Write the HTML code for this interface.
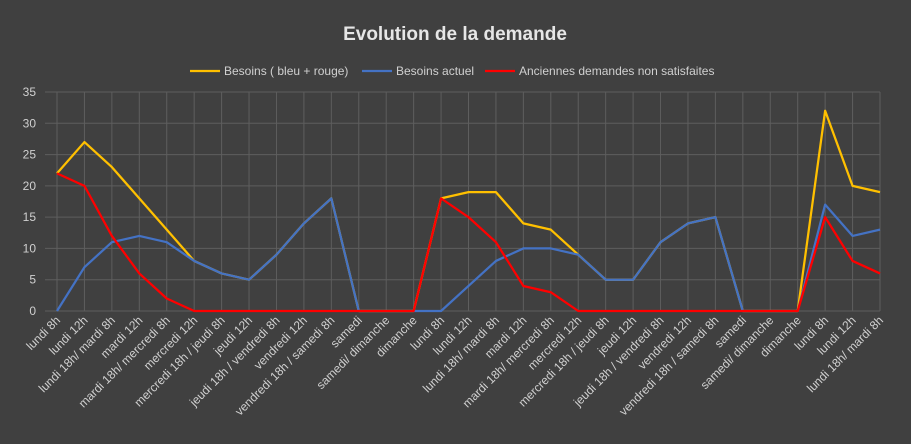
<!DOCTYPE html>
<html><head><meta charset="utf-8"><style>
html,body{margin:0;padding:0;background:#404040;}
svg{display:block;font-family:"Liberation Sans",sans-serif;}
</style></head><body>
<svg id="c" width="911" height="444">
<rect width="911" height="444" fill="#404040"/>
<text x="455" y="40" fill="#e6e6e6" font-size="19" font-weight="bold" text-anchor="middle">Evolution de la demande</text>
<g id="legend"></g>
<g id="grid"></g>
<g id="series"></g>
<g id="labels"></g>
</svg>
<script>
const categories=["lundi 8h","lundi 12h","lundi 18h/ mardi 8h","mardi 12h","mardi 18h/ mercredi 8h","mercredi 12h","mercredi 18h / jeudi 8h","jeudi 12h","jeudi 18h / vendredi 8h","vendredi 12h","vendredi 18h / samedi 8h","samedi","samedi/ dimanche","dimanche",
"lundi 8h","lundi 12h","lundi 18h/ mardi 8h","mardi 12h","mardi 18h/ mercredi 8h","mercredi 12h","mercredi 18h / jeudi 8h","jeudi 12h","jeudi 18h / vendredi 8h","vendredi 12h","vendredi 18h / samedi 8h","samedi","samedi/ dimanche","dimanche",
"lundi 8h","lundi 12h","lundi 18h/ mardi 8h"];
const besoins=[22,27,23,18,13,8,6,5,9,14,18,0,0,0,18,19,19,14,13,9,5,5,11,14,15,0,0,0,32,20,19];
const actuel=[0,7,11,12,11,8,6,5,9,14,18,0,0,0,0,4,8,10,10,9,5,5,11,14,15,0,0,0,17,12,13];
const anciennes=[22,20,12,6,2,0,0,0,0,0,0,0,0,0,18,15,11,4,3,0,0,0,0,0,0,0,0,0,15,8,6];
const yTicks=[0,5,10,15,20,25,30,35];
const NS="http://www.w3.org/2000/svg";
const x0=57,x1=880,y0=311,y1=92,ymax=35;
const xs=i=>x0+i*(x1-x0)/(categories.length-1);
const ys=v=>y0-v*(y0-y1)/ymax;
function mk(t,a,p){const e=document.createElementNS(NS,t);for(const k in a)e.setAttribute(k,a[k]);p.appendChild(e);return e;}
const grid=document.getElementById('grid'),lab=document.getElementById('labels');
yTicks.forEach(v=>{
 const l=mk('line',{x1:x0-12,x2:x1,y1:ys(v),y2:ys(v),stroke:'#5e5e5e','stroke-width':1},grid);
 
 
 const t=mk('text',{x:36,y:ys(v)+4,fill:'#d0d0d0','font-size':12,'text-anchor':'end'},lab);
 t.textContent=v;
 
 
});
categories.forEach((c,i)=>{
 const l=mk('line',{x1:xs(i),x2:xs(i),y1:y1,y2:y0,stroke:'#5e5e5e','stroke-width':1},grid);
 
 
 const t=mk('text',{x:xs(i)+4,y:y0+10,fill:'#d0d0d0','font-size':12,'text-anchor':'end',transform:`rotate(-45 ${xs(i)+4} ${y0+10})`},lab);
 t.textContent=c;
 
 
});
const ser=document.getElementById('series');
[[besoins,'#ffc000','line-besoins'],[actuel,'#4472c4','line-besoins-actuel'],[anciennes,'#ff0000','line-anciennes-demandes']].forEach(([d,col,n])=>{
 const p=mk('polyline',{points:d.map((v,i)=>xs(i)+','+ys(v)).join(' '),fill:'none',stroke:col,'stroke-width':2.25,'stroke-linejoin':'round'},ser);
 
 
});
const leg=document.getElementById('legend');
[['Besoins ( bleu + rouge)','#ffc000',190],['Besoins actuel','#4472c4',362],['Anciennes demandes non satisfaites','#ff0000',485]].forEach(([t,col,x])=>{
 const g=mk('g',{},leg);
 
 
 mk('line',{x1:x,x2:x+30,y1:71,y2:71,stroke:col,'stroke-width':2.25},g);
 const tx=mk('text',{x:x+34,y:75,fill:'#d0d0d0','font-size':12},g);
 tx.textContent=t;
});
</script>
</body></html>
